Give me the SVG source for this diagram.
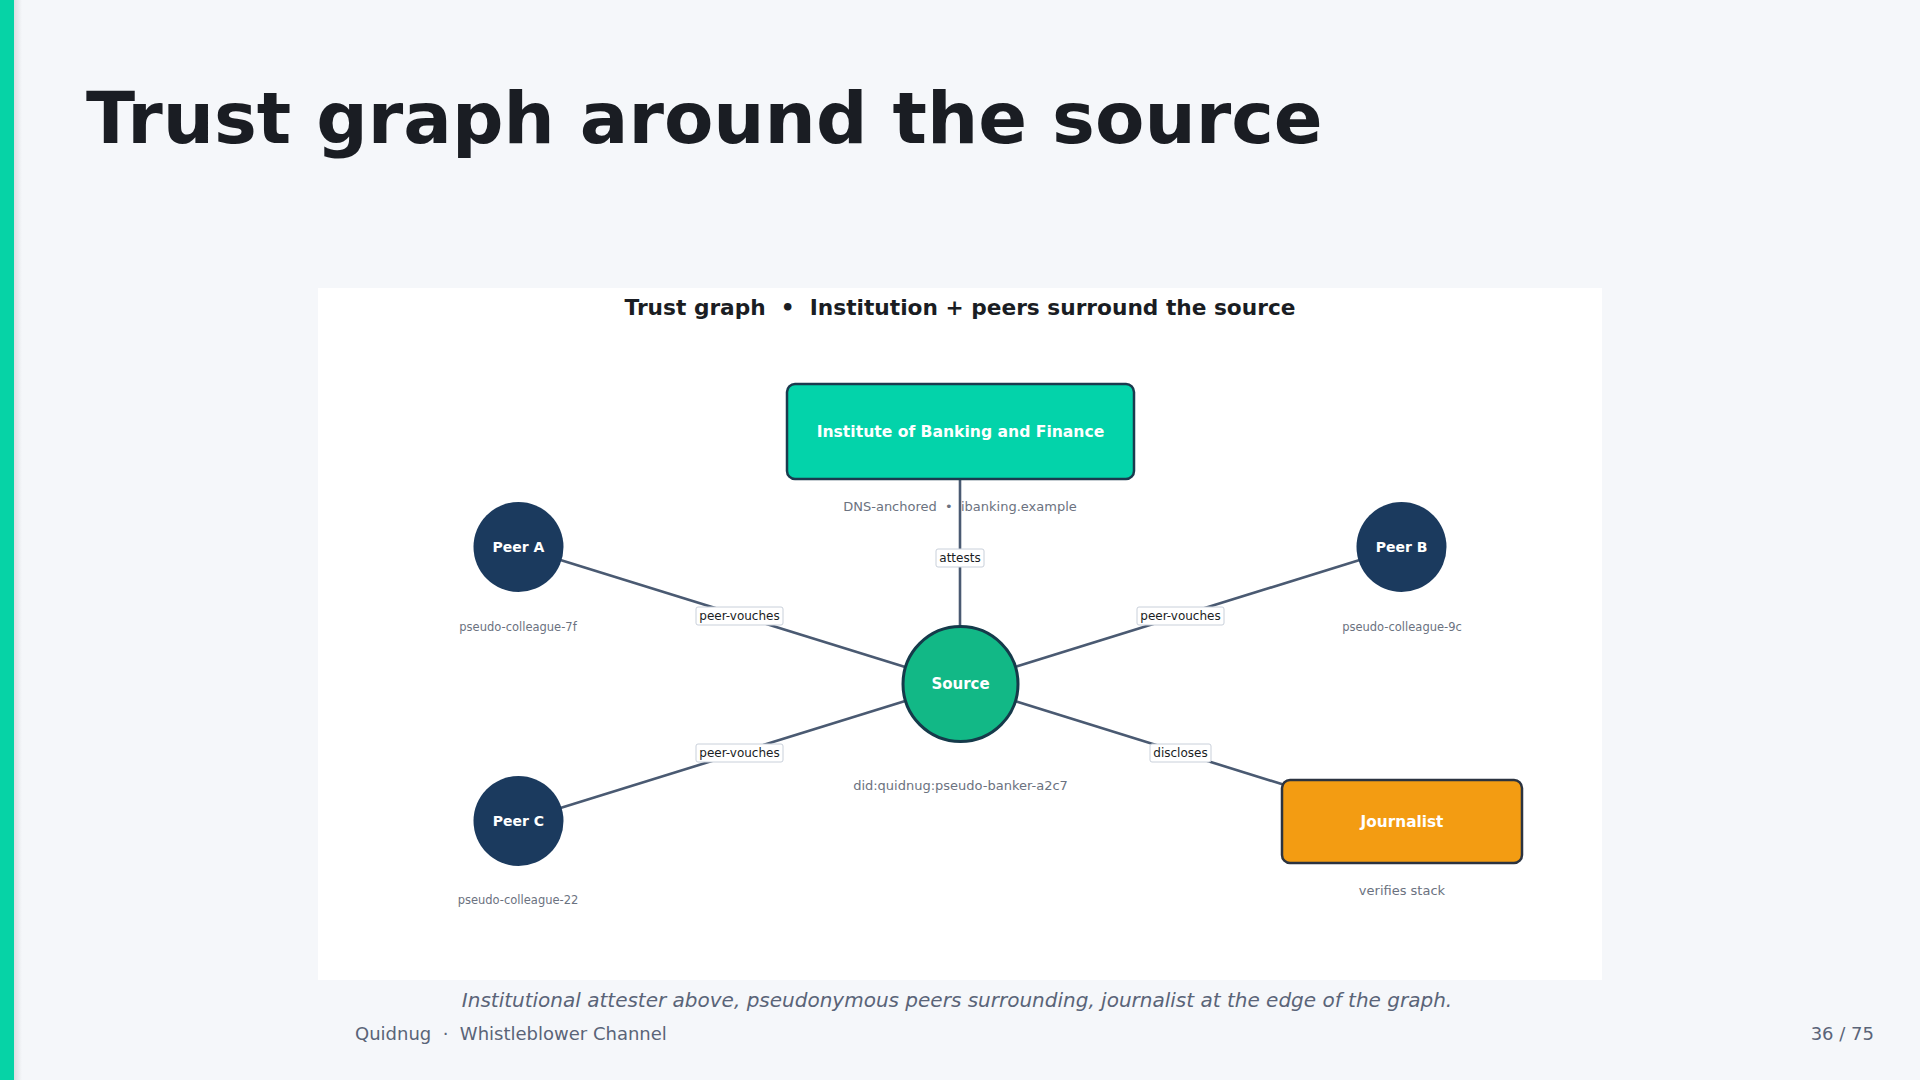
<svg xmlns="http://www.w3.org/2000/svg" width="1920" height="1080" viewBox="0 0 1920 1080">
  <defs>
    <linearGradient id="barShadow" x1="0" y1="0" x2="1" y2="0">
      <stop offset="0" stop-color="#000" stop-opacity="0.10"/>
      <stop offset="1" stop-color="#000" stop-opacity="0"/>
    </linearGradient>
    <style>
      text { white-space: pre; }
      .sans { font-family: "DejaVu Sans", "Noto Sans", sans-serif; }
      .edge { stroke: #4a5a72; stroke-width: 2.6; fill: none; }
      .elbox { fill: #ffffff; stroke: #c9d0da; stroke-width: 1; }
      .eltext { font-family: "DejaVu Sans", sans-serif; font-size: 12px; fill: #1a1d23; text-anchor: middle; }
      .nlabel { font-family: "DejaVu Sans", sans-serif; font-weight: bold; fill: #ffffff; text-anchor: middle; }
      .sub { font-family: "DejaVu Sans", sans-serif; fill: #6b7280; text-anchor: middle; }
      .peer { fill: #1b3a5e; }
    </style>
  </defs>

  <!-- page background -->
  <rect x="0" y="0" width="1920" height="1080" fill="#f5f7fa"/>
  <rect x="14" y="0" width="8" height="1080" fill="url(#barShadow)"/>
  <rect x="0" y="0" width="14" height="1080" fill="#06d3a6"/>

  <!-- slide title -->
  <text x="86" y="143" class="sans" font-size="72" font-weight="bold" fill="#1a1d23">Trust graph around the source</text>

  <!-- chart panel -->
  <rect x="318" y="288" width="1284" height="692" fill="#ffffff"/>
  <text x="960" y="315" class="sans" font-size="21.7" font-weight="bold" fill="#1a1d23" text-anchor="middle" xml:space="preserve">Trust graph  •  Institution + peers surround the source</text>

  <!-- connectors -->
  <g id="connectors">
    <line class="edge" x1="960" y1="431" x2="960" y2="684"/>
    <line class="edge" x1="518.5" y1="547" x2="960" y2="684"/>
    <line class="edge" x1="1401.5" y1="547" x2="960" y2="684"/>
    <line class="edge" x1="518.5" y1="821" x2="960" y2="684"/>
    <line class="edge" x1="1402" y1="821.5" x2="960" y2="684"/>

    <g id="label-attests">
      <rect class="elbox" x="936" y="549" width="48" height="18" rx="2"/>
      <text class="eltext" x="960" y="562.3">attests</text>
    </g>
    <g id="label-pv-a">
      <rect class="elbox" x="696" y="607" width="87" height="18" rx="2"/>
      <text class="eltext" x="739.5" y="620.3">peer-vouches</text>
    </g>
    <g id="label-pv-b">
      <rect class="elbox" x="1137" y="607" width="87" height="18" rx="2"/>
      <text class="eltext" x="1180.5" y="620.3">peer-vouches</text>
    </g>
    <g id="label-pv-c">
      <rect class="elbox" x="696" y="744" width="87" height="18" rx="2"/>
      <text class="eltext" x="739.5" y="757.3">peer-vouches</text>
    </g>
    <g id="label-discloses">
      <rect class="elbox" x="1150" y="744" width="61" height="18" rx="2"/>
      <text class="eltext" x="1180.5" y="757.3">discloses</text>
    </g>
  </g>

  <!-- nodes -->
  <g id="node-institute">
    <rect x="787" y="384" width="347" height="95" rx="8" fill="#03d3aa" stroke="#1b3a4e" stroke-width="2.5"/>
    <text class="nlabel" x="960.5" y="436.7" font-size="15.6">Institute of Banking and Finance</text>
    <text class="sub" x="960" y="510.7" font-size="13" xml:space="preserve">DNS-anchored  •  ibanking.example</text>
  </g>

  <g id="node-peer-a">
    <circle class="peer" cx="518.5" cy="547" r="45"/>
    <text class="nlabel" x="518.5" y="552.3" font-size="14">Peer A</text>
    <text class="sub" x="518" y="630.7" font-size="11.5">pseudo-colleague-7f</text>
  </g>

  <g id="node-peer-b">
    <circle class="peer" cx="1401.5" cy="547" r="45"/>
    <text class="nlabel" x="1401.5" y="552.3" font-size="14">Peer B</text>
    <text class="sub" x="1402" y="630.7" font-size="11.5">pseudo-colleague-9c</text>
  </g>

  <g id="node-peer-c">
    <circle class="peer" cx="518.5" cy="821" r="45"/>
    <text class="nlabel" x="518.5" y="826.3" font-size="14">Peer C</text>
    <text class="sub" x="518" y="904" font-size="11.5">pseudo-colleague-22</text>
  </g>

  <g id="node-source">
    <circle cx="960.5" cy="684" r="57.5" fill="#12b886" stroke="#153a4a" stroke-width="3"/>
    <text class="nlabel" x="960.5" y="689.4" font-size="15">Source</text>
    <text class="sub" x="960.5" y="790" font-size="13">did:quidnug:pseudo-banker-a2c7</text>
  </g>

  <g id="node-journalist">
    <rect x="1282" y="780" width="240" height="83" rx="8" fill="#f39c12" stroke="#2b3340" stroke-width="2.5"/>
    <text class="nlabel" x="1402" y="827" font-size="15.3">Journalist</text>
    <text class="sub" x="1402" y="895" font-size="13">verifies stack</text>
  </g>

  <!-- caption and footer -->
  <text x="957" y="1007" class="sans" font-size="20" font-style="italic" fill="#5a6478" text-anchor="middle">Institutional attester above, pseudonymous peers surrounding, journalist at the edge of the graph.</text>
  <text x="355" y="1040" class="sans" font-size="18" fill="#5a6478" xml:space="preserve">Quidnug  ·  Whistleblower Channel</text>
  <text x="1874" y="1040" class="sans" font-size="18" fill="#5a6478" text-anchor="end">36 / 75</text>
</svg>
